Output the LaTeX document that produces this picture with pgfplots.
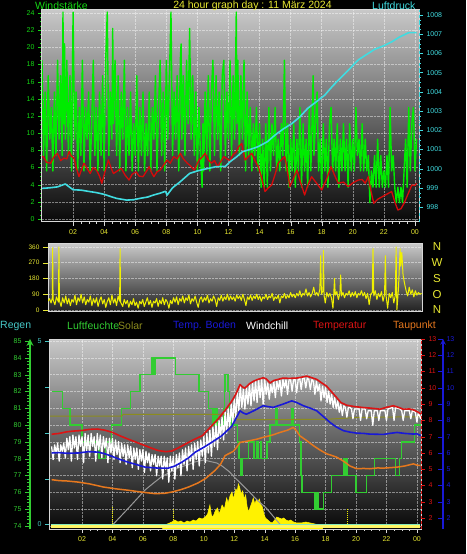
\documentclass[border=0pt]{standalone}
\usepackage{fontspec}
\setmainfont{Liberation Sans}
\usepackage{pgfplots}
\pgfplotsset{compat=1.18}
\definecolor{gust}{RGB}{0,235,0}
\definecolor{windavg}{RGB}{215,10,10}
\definecolor{press}{RGB}{64,220,225}
\definecolor{labgreen}{RGB}{20,215,20}
\definecolor{labyellow}{RGB}{232,232,50}
\definecolor{humgreen}{RGB}{50,205,50}
\definecolor{olivel}{RGB}{140,140,30}
\definecolor{tempred}{RGB}{220,20,20}
\definecolor{soilblue}{RGB}{25,25,215}
\definecolor{dewor}{RGB}{230,120,30}
\definecolor{regen}{RGB}{70,200,200}
\definecolor{bgtop}{RGB}{200,200,200}
\definecolor{bgbot}{RGB}{8,8,8}
\definecolor{frame}{RGB}{215,215,215}
\definecolor{dirye}{RGB}{240,240,0}
\pgfplotsset{
  every axis/.append style={
    scale only axis, anchor=south west,
    /pgf/number format/assume math mode=true,
    /pgf/number format/1000 sep={},
    tick label style={font=\fontsize{7}{8}\selectfont},
  },
  mygrid/.style={grid style={densely dotted, draw=white, opacity=0.45, line width=0.6pt}},
}
\begin{document}
\begin{tikzpicture}[x=1pt,y=1pt]
\path[fill=black,use as bounding box] (0,0) rectangle (466,554);

% ---------------- TOP PANEL: wind ----------------
\begin{axis}[
  at={(42pt,332pt)}, width=377pt, height=212pt,
  xmin=0, xmax=24.26, ymin=-0.35, ymax=24.35,
  axis background/.style={top color=bgtop, bottom color=bgbot},
  xtick={2,4,...,24}, xticklabels={02,04,06,08,10,12,14,16,18,20,22,00},
  ytick={0,2,...,24},
  minor x tick num=3, minor y tick num=3,
  tick pos=left, tick align=outside,
  major tick length=4pt, minor tick length=2pt,
  grid=major, mygrid,
  axis line style={draw=frame, line width=1pt},
  xtick style={draw=frame}, ytick style={draw=labgreen},
  xticklabel style={text=labyellow},
  yticklabel style={text=labgreen},
]
\addplot[gust, line width=1.4pt, line join=round] coordinates {
(0.0,18.5)(0.1,7.4)(0.2,14.8)(0.3,5.6)(0.4,16.7)(0.5,9.3)(0.6,13.0)(0.7,5.6)(0.8,14.8)(0.9,7.4)
(1.0,18.5)(1.1,9.3)(1.2,16.7)(1.3,7.4)(1.35,24.1)(1.4,11.1)(1.45,20.4)(1.5,9.3)(1.6,18.5)(1.7,7.4)
(1.8,16.7)(1.9,5.6)(2.0,24.1)(2.1,9.3)(2.2,14.8)(2.3,5.6)(2.4,13.0)(2.5,7.4)(2.6,18.5)(2.7,5.6)
(2.8,13.0)(2.9,9.3)(3.0,14.8)(3.1,5.6)(3.2,11.1)(3.3,18.5)(3.4,7.4)(3.5,13.0)(3.6,5.6)(3.7,14.8)
(3.8,7.4)(3.9,16.7)(4.0,5.6)(4.1,18.5)(4.2,24.1)(4.3,7.4)(4.4,14.8)(4.5,9.3)(4.55,22.2)(4.6,11.1)
(4.7,18.5)(4.8,7.4)(4.9,16.7)(5.0,5.6)(5.1,14.8)(5.2,9.3)(5.3,18.5)(5.4,5.6)(5.5,13.0)(5.6,7.4)
(5.7,14.8)(5.8,5.6)(5.9,11.1)(6.0,7.4)(6.1,16.7)(6.2,5.6)(6.3,13.0)(6.4,7.4)(6.5,14.8)(6.6,5.6)
(6.7,11.1)(6.8,7.4)(6.9,14.8)(7.0,5.6)(7.1,13.0)(7.2,9.3)(7.3,16.7)(7.4,5.6)(7.5,13.0)(7.6,18.5)
(7.7,7.4)(7.8,14.8)(7.9,5.6)(8.0,18.5)(8.1,9.3)(8.2,16.7)(8.3,24.1)(8.4,7.4)(8.5,14.8)(8.6,9.3)
(8.7,16.7)(8.8,5.6)(8.9,18.5)(8.95,20.4)(9.0,9.3)(9.1,16.7)(9.2,7.4)(9.3,18.5)(9.4,11.1)(9.5,22.2)
(9.6,9.3)(9.7,16.7)(9.8,7.4)(9.9,14.8)(10.0,5.6)(10.1,13.0)(10.2,7.4)(10.3,3.7)(10.35,11.1)(10.4,5.6)
(10.5,14.8)(10.6,7.4)(10.7,16.7)(10.8,5.6)(10.9,14.8)(11.0,18.5)(11.1,7.4)(11.2,16.7)(11.3,9.3)(11.4,14.8)
(11.5,5.6)(11.6,16.7)(11.7,18.5)(11.8,7.4)(11.9,14.8)(12.0,9.3)(12.1,18.5)(12.2,7.4)(12.3,16.7)(12.4,9.3)
(12.5,24.1)(12.55,11.1)(12.6,18.5)(12.7,7.4)(12.8,16.7)(12.9,9.3)(13.0,18.5)(13.1,5.6)(13.2,14.8)(13.3,7.4)
(13.4,13.0)(13.5,5.6)(13.6,11.1)(13.7,7.4)(13.8,13.0)(13.9,5.6)(14.0,11.1)(14.1,3.7)(14.2,9.3)(14.3,3.7)
(14.4,11.1)(14.5,3.7)(14.6,13.0)(14.7,5.6)(14.8,11.1)(14.9,7.4)(15.0,13.0)(15.1,5.6)(15.2,9.3)(15.3,5.6)
(15.4,11.1)(15.5,7.4)(15.6,18.5)(15.7,5.6)(15.8,11.1)(15.9,3.7)(16.0,9.3)(16.1,5.6)(16.2,11.1)(16.3,3.7)
(16.4,9.3)(16.5,5.6)(16.6,13.0)(16.7,3.7)(16.8,11.1)(16.9,5.6)(17.0,9.3)(17.1,3.7)(17.2,13.0)(17.3,5.6)
(17.45,16.7)(17.5,7.4)(17.6,11.1)(17.7,14.8)(17.8,5.6)(17.9,9.3)(18.0,3.7)(18.1,11.1)(18.2,5.6)(18.3,9.3)
(18.4,3.7)(18.5,11.1)(18.6,13.0)(18.7,5.6)(18.8,9.3)(18.9,5.6)(19.0,11.1)(19.1,3.7)(19.2,9.3)(19.3,5.6)
(19.4,11.1)(19.5,5.6)(19.6,9.3)(19.7,3.7)(19.8,11.1)(19.9,5.6)(20.0,9.3)(20.1,5.6)(20.2,13.0)(20.3,7.4)
(20.4,9.3)(20.5,5.6)(20.6,11.1)(20.7,5.6)(20.8,9.3)(20.9,5.6)(21.0,7.4)(21.1,1.9)(21.2,5.6)(21.3,3.7)
(21.4,7.4)(21.5,3.7)(21.6,9.3)(21.7,3.7)(21.8,7.4)(21.9,3.7)(22.0,5.6)(22.1,3.7)(22.2,7.4)(22.3,3.7)
(22.4,13.0)(22.5,5.6)(22.6,7.4)(22.7,3.7)(22.8,1.9)(22.9,3.7)(23.0,1.9)(23.1,3.7)(23.2,1.9)(23.3,5.6)
(23.4,9.3)(23.5,3.7)(23.6,13.0)(23.7,5.6)(23.8,11.1)(23.9,13.0)(24.0,5.6)(24.1,9.3)
};
\addplot[windavg, line width=1.3pt, line join=round] coordinates {
(0.0,7.3)(0.08,7.26)(0.3,6.6)(0.56,6.5)(0.75,7.2)(0.99,7.65)(1.2,6.8)(1.42,7.1)(1.6,7.0)(1.74,7.85)
(1.9,7.3)(2.06,7.1)(2.2,6.0)(2.38,4.93)(2.55,5.8)(2.7,6.5)(2.9,5.9)(3.1,5.3)(3.3,6.0)(3.5,5.7)
(3.7,5.0)(3.85,4.16)(4.05,5.5)(4.27,6.87)(4.45,5.9)(4.6,5.3)(4.85,5.6)(5.1,5.9)(5.35,5.1)(5.6,4.54)
(5.8,5.2)(6.05,5.5)(6.25,5.0)(6.5,4.93)(6.7,5.5)(6.9,6.1)(7.05,5.4)(7.2,4.93)(7.4,5.5)(7.6,5.7)
(7.8,6.2)(8.04,6.87)(8.25,6.5)(8.48,7.26)(8.7,7.0)(8.9,7.65)(9.1,7.0)(9.35,6.5)(9.55,6.2)(9.8,5.7)
(10.1,6.87)(10.3,7.2)(10.5,7.65)(10.7,6.9)(10.9,6.5)(11.1,6.8)(11.3,6.1)(11.5,6.7)(11.7,7.26)(11.9,7.0)
(12.1,6.8)(12.3,7.5)(12.5,7.8)(12.64,8.4)(12.85,8.8)(13.07,6.87)(13.3,7.3)(13.5,7.65)(13.7,6.8)(13.92,6.1)
(14.1,5.0)(14.35,3.2)(14.55,3.6)(14.78,3.96)(15.0,5.2)(15.2,6.5)(15.4,6.9)(15.63,7.26)(15.8,5.5)(15.95,3.77)
(16.2,4.8)(16.4,5.7)(16.65,4.2)(16.9,2.8)(17.1,3.9)(17.35,4.93)(17.7,4.1)(18.0,3.38)(18.3,4.6)(18.6,6.1)
(18.85,5.0)(19.07,4.16)(19.4,4.3)(19.7,3.77)(20.0,4.2)(20.35,4.54)(20.6,4.6)(20.8,4.16)(21.0,4.93)(21.15,3.4)
(21.35,1.83)(21.6,2.3)(21.9,2.6)(22.2,2.9)(22.5,3.2)(22.7,2.0)(22.9,1.05)(23.1,1.2)(23.3,1.83)(23.55,2.9)
(23.8,3.96)(24.0,3.9)(24.1,4.16)
};
\end{axis}

\begin{axis}[
  at={(42pt,332pt)}, width=377pt, height=212pt,
  xmin=0, xmax=24.26, ymin=997.22, ymax=1008.26,
  axis y line*=right, axis x line=none,
  ytick={998,...,1008}, minor y tick num=3,
  tick align=outside, major tick length=4pt, minor tick length=2pt,
  y axis line style={draw=press, dashed, line width=1pt},
  ytick style={draw=press},
  yticklabel style={text=press},
]
\addplot[press, line width=1.6pt, line join=round] coordinates {
(0,998.97)(0.5,999.0)(1.0,999.05)(1.5,999.2)(2.0,998.9)(2.5,998.88)(3.1,998.8)(3.5,998.75)(4.0,998.66)
(4.4,998.55)(4.8,998.45)(5.45,998.36)(5.9,998.38)(6.3,998.45)(6.8,998.52)(7.2,998.63)(7.6,998.72)
(7.95,998.82)(8.05,998.62)(8.4,999.0)(8.9,999.32)(9.5,999.75)(10.0,999.88)(10.4,999.96)(11.2,1000.1)
(11.8,1000.12)(12.1,1000.36)(12.5,1000.6)(12.9,1000.88)(13.4,1001.0)(13.9,1001.14)(14.5,1001.4)
(15.0,1001.75)(15.5,1002.05)(16.1,1002.36)(16.6,1002.7)(17.1,1003.14)(17.6,1003.45)(18.2,1003.83)
(18.7,1004.3)(19.3,1004.79)(19.8,1005.2)(20.35,1005.66)(20.9,1005.95)(21.4,1006.21)(22.0,1006.4)
(22.5,1006.6)(23.0,1006.85)(23.6,1007.08)(24.1,1007.08)
};
\end{axis}

% ---------------- MIDDLE PANEL: wind direction ----------------
\begin{axis}[
  at={(48pt,242pt)}, width=374pt, height=68pt,
  xmin=0, xmax=24.28, ymin=-11.4, ymax=377,
  axis background/.style={top color=bgtop, bottom color=bgbot!80!gray},
  xtick=\empty, ytick={0,90,180,270,360},
  ytick pos=left, tick align=outside, major tick length=5pt,
  ymajorgrids, mygrid,
  axis line style={draw=frame, line width=1pt},
  ytick style={draw=labyellow},
  yticklabel style={text=labyellow, font=\fontsize{6.5}{7}\selectfont},
]
\addplot[dirye, line width=1pt, line join=round] coordinates {
(0.0,50)(0.1,65)(0.2,40)(0.28,70)(0.3,355)(0.33,60)(0.45,30)(0.55,75)(0.68,45)(0.71,360)(0.74,55)(0.85,20)
(0.95,70)(1.05,40)(1.15,80)(1.25,35)(1.35,65)(1.45,25)(1.55,60)(1.65,45)(1.75,85)(1.85,30)(1.95,70)
(2.05,50)(2.15,90)(2.25,40)(2.35,75)(2.45,30)(2.55,60)(2.65,45)(2.75,80)(2.85,25)(2.95,65)(3.05,40)
(3.15,70)(3.25,20)(3.35,55)(3.45,75)(3.55,35)(3.65,60)(3.75,15)(3.85,50)(3.95,70)(4.05,30)(4.15,85)
(4.25,40)(4.35,65)(4.45,25)(4.55,80)(4.65,50)(4.68,350)(4.71,45)(4.85,20)(4.95,60)(5.05,35)(5.15,55)
(5.25,15)(5.35,50)(5.45,30)(5.55,65)(5.65,25)(5.75,45)(5.85,10)(5.95,50)(6.05,35)(6.15,60)(6.25,20)
(6.35,45)(6.45,70)(6.55,30)(6.65,55)(6.75,15)(6.85,50)(6.95,40)(7.05,65)(7.15,20)(7.25,55)(7.35,35)
(7.45,70)(7.55,30)(7.65,60)(7.75,45)(7.85,10)(7.95,55)(8.05,35)(8.15,70)(8.25,45)(8.35,75)(8.45,30)
(8.55,65)(8.65,50)(8.75,80)(8.85,40)(8.95,70)(9.05,55)(9.15,85)(9.25,35)(9.35,65)(9.45,50)(9.55,80)
(9.65,45)(9.75,15)(9.85,60)(9.95,75)(10.05,45)(10.15,70)(10.25,55)(10.35,85)(10.45,40)(10.55,65)
(10.65,50)(10.75,80)(10.85,60)(10.95,20)(11.05,70)(11.15,55)(11.25,85)(11.35,50)(11.45,75)(11.55,60)
(11.65,90)(11.75,55)(11.85,80)(11.95,60)(12.05,75)(12.15,50)(12.25,85)(12.35,65)(12.45,80)(12.55,55)
(12.65,90)(12.75,60)(12.85,25)(12.95,75)(13.05,60)(13.15,85)(13.25,55)(13.35,80)(13.45,65)(13.55,90)
(13.65,60)(13.75,80)(13.85,50)(13.95,75)(14.05,65)(14.15,90)(14.25,60)(14.35,80)(14.45,70)(14.55,95)
(14.65,55)(14.75,75)(14.85,65)(14.95,85)(15.05,40)(15.15,80)(15.25,70)(15.35,95)(15.45,65)(15.55,85)
(15.65,70)(15.75,100)(15.85,75)(15.95,90)(16.05,70)(16.15,95)(16.25,80)(16.35,110)(16.45,75)(16.55,95)
(16.65,85)(16.75,120)(16.85,80)(16.95,100)(17.05,75)(17.15,95)(17.25,130)(17.35,85)(17.45,100)(17.55,80)
(17.65,120)(17.7,310)(17.75,90)(17.85,110)(17.88,340)(17.92,85)(18.0,40)(18.1,100)(18.2,75)(18.3,95)
(18.4,70)(18.5,10)(18.55,90)(18.6,180)(18.65,85)(18.75,105)(18.85,60)(18.95,95)(19.0,200)(19.05,80)
(19.15,100)(19.25,70)(19.35,95)(19.45,85)(19.55,110)(19.65,75)(19.75,100)(19.85,80)(19.95,105)(20.05,70)
(20.15,95)(20.25,85)(20.35,110)(20.45,80)(20.55,100)(20.65,65)(20.75,95)(20.85,30)(20.95,90)(21.05,100)
(21.1,350)(21.15,80)(21.25,110)(21.35,60)(21.45,95)(21.55,75)(21.65,105)(21.75,50)(21.85,90)(21.9,310)
(21.95,80)(22.05,10)(22.15,95)(22.25,70)(22.35,100)(22.45,40)(22.55,85)(22.6,360)(22.65,0)(22.75,120)
(22.86,350)(22.9,250)(22.97,330)(23.05,200)(23.15,150)(23.25,110)(23.35,80)(23.45,130)(23.55,90)
(23.65,115)(23.75,75)(23.85,110)(23.95,85)(24.05,100)(24.15,90)(24.25,95)
};
\end{axis}
\begin{axis}[
  at={(48pt,242pt)}, width=374pt, height=68pt,
  xmin=0, xmax=24.28, ymin=-11.4, ymax=377,
  axis y line*=right, axis x line=none,
  y axis line style={draw=none}, ytick style={draw=none},
  ytick={0,90,180,270,360}, yticklabels={N,O,S,W,N},
  yticklabel style={text=labyellow, font=\fontsize{11.5}{12}\selectfont, anchor=center, xshift=15pt},
]
\addplot[draw=none] coordinates {(0,0)};
\end{axis}

% ---------------- BOTTOM PANEL ----------------
\begin{axis}[
  at={(50pt,25pt)}, width=371pt, height=190pt,
  xmin=-0.105, xmax=24.27, ymin=73.82, ymax=85.12,
  axis background/.style={top color=bgtop, bottom color=bgbot},
  xtick={2,4,...,24}, xticklabels={02,04,06,08,10,12,14,16,18,20,22,00},
  minor x tick num=3,
  ytick={74,...,85}, yticklabels={},
  tick pos=left, tick align=outside,
  major tick length=4pt, minor tick length=2pt,
  grid=major, mygrid,
  axis line style={draw=frame, line width=1pt},
  xtick style={draw=frame}, ytick style={draw=none},
  xticklabel style={text=labyellow},
]
\addplot[humgreen, line width=1.5pt, const plot] coordinates {
(0,82)(0.7,81)(1.2,80)(2.0,79)(3.1,78)(3.55,79)(3.95,80)(4.6,81)(5.2,82)(5.8,83)(6.6,84)(6.65,83)
(6.7,84)(6.75,83)(6.8,84)(8.15,83)(9.7,82)(10.3,81)(10.6,80)(10.65,81)(10.75,80)(10.8,81)(10.9,80)
(11.3,81)(11.35,82)(11.4,83)(11.6,82)(11.7,81)(11.8,80)(12.2,79)(12.3,78)(12.45,77)(12.55,78)
(12.95,79)(13.3,78)(13.45,79)(13.55,78)(13.75,79)(13.8,78)(14.15,79)(14.35,80)(14.75,81)(14.85,80)
(15.75,81)(15.85,80)(16.3,79)(16.4,77)(16.45,76)(17.3,75)(17.45,76)(17.55,75)(17.85,76)(18.4,77)
(19.2,78)(19.25,77)(19.3,78)(19.35,77)(19.4,78)(19.45,77)(20.0,76)(20.7,77)(21.2,78)(22.6,77)
(22.85,78)(23.0,79)(23.85,80)(24.27,80)
};
\addplot[olivel, line width=1pt] coordinates {
(-0.1,80.53)(4.6,80.53)(4.7,80.64)(12.0,80.64)(12.2,80.32)(18.0,80.34)(20.0,80.45)(24.27,80.5)
};
\end{axis}

\begin{axis}[
  at={(50pt,25pt)}, width=371pt, height=190pt,
  xmin=-0.105, xmax=24.27, ymin=0, ymax=190, hide axis,
]
\addplot[fill=yellow, draw=yellow, line width=0.5pt] coordinates {
(7.3,3)(7.6,5)(7.9,7)(8.1,9)(8.3,7)(8.5,8)(8.7,6)(8.9,8)(9.1,7)(9.3,9)(9.5,8)(9.7,11)(9.9,10)
(10.1,12)(10.25,15)(10.4,24)(10.5,14)(10.6,12)(10.75,18)(10.9,21)(11.0,15)(11.1,19)(11.2,24)
(11.35,20)(11.5,31)(11.6,26)(11.72,33)(11.85,37)(11.95,30)(12.1,40)(12.2,38)(12.27,45)(12.35,42)
(12.45,35)(12.55,38)(12.65,30)(12.75,34)(12.85,22)(12.95,17)(13.05,22)(13.15,26)(13.25,31)(13.35,25)
(13.45,29)(13.55,27)(13.65,30)(13.75,24)(13.85,22)(13.95,15)(14.05,11)(14.2,9)(14.35,7)(14.5,6)
(14.65,9)(14.8,12)(14.95,11)(15.1,10)(15.25,11)(15.4,9)(15.55,8)(15.7,9)(15.9,7)(16.1,6)(16.4,6)
(16.7,7)(17.0,6)(17.3,5)(17.6,4)(17.8,3)
} \closedcycle;
\addplot[gray!80!white, line width=1pt] coordinates {
(4.0,4)(4.5,12)(5.04,20.7)(5.6,30)(6.14,39)(6.7,46)(7.2,52)(7.8,57)(8.3,61)(8.9,64)(9.4,67)
(10.0,69)(10.85,66)(11.2,63)(11.7,57)(12.0,52)(12.6,43)(13.0,37)(13.5,29)(14.1,21)(14.6,12)(15.05,4)
};
\addplot[dirye, densely dotted, line width=1pt] coordinates {(3.97,3)(3.97,22)};
\addplot[dirye, densely dotted, line width=1pt] coordinates {(7.98,3)(7.98,21)};
\addplot[dirye, densely dotted, line width=1pt] coordinates {(19.47,3)(19.47,21)};
\addplot[yellow!60!white, line width=3pt] coordinates {(-0.05,2)(24.22,2)};
\end{axis}

\begin{axis}[
  at={(50pt,25pt)}, width=371pt, height=190pt,
  xmin=-0.105, xmax=24.27, ymin=-0.123, ymax=5.068,
  axis y line*=left, axis x line=none,
  ytick={0,1.25,2.5,3.75,5}, yticklabels={0,,,,5},
  tick align=outside, major tick length=5pt,
  y axis line style={draw=frame, line width=1pt},
  ytick style={draw=regen},
  yticklabel style={text=regen},
]
\addplot[regen!70!green!60!white, line width=1.6pt] coordinates {(-0.05,0)(24.22,0)};
\end{axis}

\begin{axis}[
  at={(50pt,25pt)}, width=371pt, height=190pt,
  xmin=-0.105, xmax=24.27, ymin=1.33, ymax=13,
  axis y line*=right, axis x line=none,
  ytick={2,...,13},
  tick align=outside, major tick length=4pt,
  y axis line style={draw=tempred, densely dashed, line width=1pt},
  ytick style={draw=tempred},
  yticklabel style={text=tempred},
]
\addplot[white, line width=1.3pt, line join=round] coordinates {
(0.0,6.4)(0.1,5.6)(0.2,6.5)(0.3,6.0)(0.4,6.6)(0.5,5.5)(0.6,6.5)(0.7,6.1)(0.8,6.6)(0.9,5.7)
(1.0,6.9)(1.1,6.2)(1.2,7.0)(1.3,5.5)(1.4,7.1)(1.5,6.3)(1.6,7.0)(1.7,5.6)(1.8,7.1)(1.9,6.4)
(2.0,7.0)(2.1,5.4)(2.2,7.2)(2.3,6.1)(2.4,7.1)(2.5,5.8)(2.6,7.2)(2.7,6.4)(2.8,7.0)(2.9,5.5)
(3.0,7.2)(3.1,6.2)(3.2,7.1)(3.3,5.7)(3.4,7.0)(3.5,6.3)(3.6,6.9)(3.7,5.4)(3.8,6.9)(3.9,6.0)
(4.0,6.9)(4.1,5.6)(4.2,6.8)(4.3,5.9)(4.4,6.7)(4.5,5.4)(4.6,6.6)(4.7,5.8)(4.8,6.5)(4.9,5.3)
(5.0,6.5)(5.1,5.7)(5.2,6.4)(5.3,5.1)(5.4,6.3)(5.5,5.6)(5.6,6.3)(5.7,5.0)(5.8,6.2)(5.9,5.5)
(6.0,6.2)(6.1,4.8)(6.2,6.1)(6.3,5.4)(6.4,6.0)(6.5,4.9)(6.6,5.9)(6.7,5.3)(6.8,5.9)(6.9,4.6)
(7.0,5.8)(7.1,5.2)(7.2,5.8)(7.3,4.4)(7.4,5.8)(7.5,5.0)(7.6,5.7)(7.7,4.2)(7.8,5.8)(7.9,4.9)
(8.0,5.8)(8.1,4.4)(8.2,5.9)(8.3,5.1)(8.4,6.0)(8.5,4.6)(8.6,6.2)(8.7,5.3)(8.8,6.3)(8.9,4.9)
(9.0,6.4)(9.1,5.5)(9.2,6.5)(9.3,5.0)(9.4,6.6)(9.5,5.6)(9.6,6.7)(9.7,5.2)(9.8,6.8)(9.9,5.8)
(10.0,7.0)(10.1,5.4)(10.2,7.2)(10.3,6.0)(10.4,7.4)(10.5,5.8)(10.6,7.6)(10.7,6.4)(10.8,7.8)(10.9,6.2)
(11.0,8.0)(11.1,6.9)(11.2,8.2)(11.3,6.8)(11.4,8.5)(11.5,7.2)(11.6,8.7)(11.7,7.5)(11.8,9.0)(11.9,7.8)
(12.0,9.3)(12.1,8.2)(12.2,9.7)(12.3,8.6)(12.4,10.1)(12.5,8.8)(12.6,9.9)(12.7,8.7)(12.8,10.0)(12.9,9.0)
(13.0,10.2)(13.1,8.9)(13.2,10.3)(13.3,9.2)(13.4,10.4)(13.5,9.1)(13.6,10.5)(13.7,9.4)(13.8,10.5)(13.9,9.0)
(14.0,10.5)(14.1,9.6)(14.2,10.3)(14.3,9.3)(14.4,10.2)(14.5,9.7)(14.6,10.4)(14.7,9.4)(14.8,10.4)(14.9,9.9)
(15.0,10.5)(15.1,9.5)(15.2,10.5)(15.3,10.0)(15.4,10.5)(15.5,9.6)(15.6,10.5)(15.7,10.5)(15.8,9.8)(15.9,10.5)
(16.0,10.5)(16.1,9.7)(16.2,10.5)(16.3,10.6)(16.4,9.9)(16.5,10.6)(16.6,10.6)(16.7,10.0)(16.8,10.6)(16.9,10.5)
(17.0,9.9)(17.1,10.5)(17.2,10.4)(17.3,9.6)(17.4,10.4)(17.5,9.8)(17.6,10.2)(17.7,9.2)(17.8,10.1)(17.9,9.4)
(18.0,10.0)(18.1,9.1)(18.2,9.8)(18.3,9.0)(18.4,9.6)(18.5,8.8)(18.6,9.4)(18.7,8.7)(18.8,9.2)(18.9,8.5)
(19.0,9.0)(19.1,8.3)(19.2,8.9)(19.3,8.8)(19.4,8.2)(19.5,8.8)(19.6,8.8)(19.7,8.7)(19.8,8.1)(19.9,8.7)
(20.0,8.7)(20.2,8.7)(20.3,8.0)(20.4,8.7)(20.6,8.7)(20.7,8.1)(20.8,8.6)(21.0,8.6)(21.1,7.7)(21.2,8.6)
(21.4,8.6)(21.5,8.0)(21.6,8.6)(21.9,8.6)(22.0,8.0)(22.1,8.7)(22.4,8.8)(22.5,8.0)(22.6,8.8)(22.9,8.7)
(23.0,8.6)(23.1,8.0)(23.2,8.6)(23.5,8.6)(23.6,8.1)(23.7,8.6)(23.9,8.5)(24.0,7.9)(24.1,8.5)(24.25,8.1)
};
\addplot[dewor, line width=1.5pt, line join=round] coordinates {
(0.0,4.36)(0.5,4.3)(1.0,4.28)(1.76,4.21)(2.5,4.1)(3.4,3.91)(4.2,3.8)(5.04,3.71)(5.9,3.6)(6.8,3.5)
(7.4,3.52)(7.9,3.6)(8.5,3.75)(9.0,3.91)(9.6,4.15)(10.1,4.42)(10.74,4.93)(11.1,5.3)(11.4,5.84)(11.94,6.1)
(12.2,6.4)(12.38,6.65)(13.0,6.75)(13.5,6.85)(13.9,6.96)(14.5,7.1)(15.0,7.26)(15.5,7.4)(15.88,7.57)
(16.1,7.35)(16.3,7.06)(16.7,6.8)(17.2,6.45)(17.6,6.2)(18.07,5.95)(18.4,5.85)(18.73,5.74)(19.0,5.6)
(19.28,5.43)(19.6,5.2)(20.05,5.03)(20.5,5.05)(20.9,5.03)(21.4,5.08)(21.8,5.07)(22.3,5.1)(22.7,5.13)
(23.2,5.2)(23.77,5.33)(24.0,5.25)(24.25,5.23)
};
\addplot[soilblue, line width=1.6pt, line join=round] coordinates {
(0.0,6.0)(0.5,6.02)(1.0,5.98)(1.76,6.0)(2.4,6.08)(3.07,6.05)(3.5,5.95)(3.95,5.8)(4.5,5.6)(5.04,5.43)
(5.6,5.28)(6.14,5.13)(7.0,5.07)(7.67,5.07)(8.1,5.2)(8.55,5.43)(9.0,5.7)(9.42,6.04)(10.0,6.35)(10.52,6.65)
(11.18,7.06)(11.83,7.63)(12.1,8.1)(12.38,8.59)(12.6,8.45)(12.8,8.38)(13.3,8.6)(13.9,8.9)(14.2,8.85)
(14.57,8.8)(15.2,9.0)(15.78,9.2)(16.1,9.1)(16.54,8.9)(17.0,8.75)(17.42,8.59)(17.9,8.2)(18.3,7.87)
(18.7,7.6)(19.17,7.37)(19.6,7.28)(20.05,7.22)(20.5,7.2)(20.9,7.16)(21.3,7.15)(21.8,7.14)(22.2,7.2)
(22.7,7.26)(23.2,7.2)(23.77,7.16)(24.0,7.18)(24.25,7.06)
};
\addplot[tempred, line width=1.6pt, line join=round] coordinates {
(0.0,7.15)(0.5,7.2)(1.0,7.3)(1.5,7.35)(2.0,7.38)(2.5,7.45)(3.0,7.47)(3.5,7.4)(4.0,7.26)(4.5,7.05)
(5.0,6.86)(5.5,6.68)(6.0,6.5)(6.5,6.32)(7.0,6.15)(7.5,6.08)(7.9,6.12)(8.3,6.3)(8.8,6.55)(9.3,6.8)
(9.9,7.06)(10.5,7.65)(11.0,8.15)(11.5,8.75)(11.85,9.2)(12.1,9.6)(12.38,10.2)(12.55,10.05)(12.7,9.98)
(13.0,10.25)(13.25,10.4)(13.5,10.5)(13.9,10.62)(14.1,10.55)(14.35,10.3)(14.6,10.45)(15.0,10.55)
(15.22,10.6)(15.6,10.58)(16.1,10.6)(16.4,10.65)(16.76,10.72)(17.1,10.62)(17.42,10.52)(17.75,10.3)
(18.07,10.1)(18.4,9.75)(18.73,9.4)(19.0,9.1)(19.39,8.93)(19.9,8.85)(20.48,8.79)(21.0,8.75)(21.58,8.69)
(22.0,8.8)(22.45,8.9)(22.8,8.8)(23.1,8.69)(23.5,8.7)(23.77,8.65)(24.1,8.5)(24.25,8.38)
};
\end{axis}

\begin{axis}[
  at={(30pt,25pt)}, width=2pt, height=190pt,
  xmin=0, xmax=1, ymin=73.82, ymax=85.12,
  axis y line=left, axis x line=none,
  ytick={74,...,85}, minor y tick num=4,
  tick align=outside, major tick length=5pt, minor tick length=2.5pt,
  y axis line style={draw=humgreen, line width=2pt},
  ytick style={draw=humgreen},
  yticklabel style={text=humgreen},
]
\addplot[draw=none] coordinates {(0,80)};
\end{axis}

\begin{axis}[
  at={(441pt,25pt)}, width=2pt, height=190pt,
  xmin=0, xmax=1, ymin=1.33, ymax=13,
  axis y line=right, axis x line=none,
  ytick={2,...,13},
  tick align=inside, major tick length=5pt,
  y axis line style={draw=soilblue, line width=1.5pt},
  ytick style={draw=soilblue},
  yticklabel style={text=soilblue},
]
\addplot[draw=none] coordinates {(0,5)};
\end{axis}

\begin{scope}[every node/.style={inner sep=0pt, anchor=west, font=\fontsize{10.5}{12}\selectfont}]
\node[text=labgreen] at (35,548) {Windstärke};
\node[text=labyellow, anchor=center] at (252.5,548) {24 hour graph day : 11 März 2024};
\node[text=press] at (372,548) {Luftdruck};
\node[text=regen] at (0,228) {Regen};
\node[text=humgreen] at (67,228) {Luftfeuchte};
\node[text=olivel] at (118,228) {Solar};
\node[text=soilblue] at (173,228) {Temp. Boden};
\node[text=white] at (246,228) {Windchill};
\node[text=tempred] at (313,228) {Temperatur};
\node[text=dewor] at (393,228) {Taupunkt};
\end{scope}
\end{tikzpicture}
\end{document}
